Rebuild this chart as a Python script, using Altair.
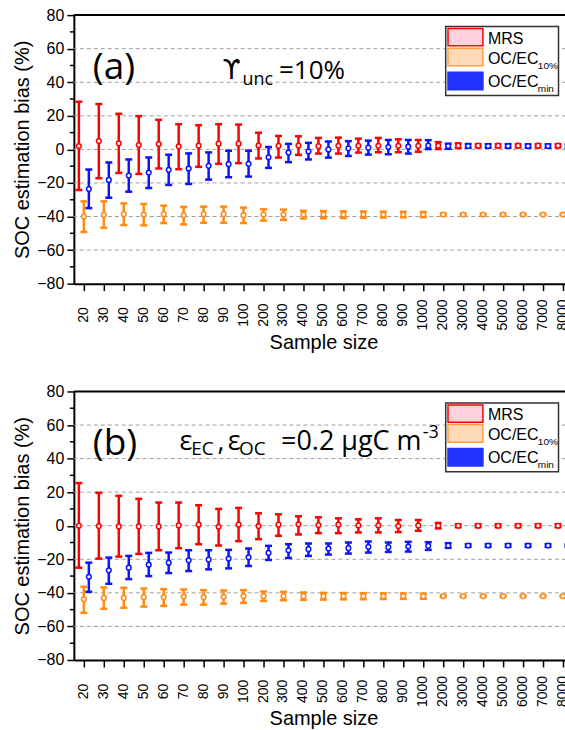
import altair as alt
import pandas as pd

sizes = ["20", "30", "40", "50", "60", "70", "80", "90", "100",
         "200", "300", "400", "500", "600", "700", "800", "900",
         "1000", "2000", "3000", "4000", "5000", "6000", "7000", "8000"]
series_names = ["MRS", "OC/EC10%", "OC/ECmin"]
series_colors = ["#FF0000", "#FF8A14", "#0A14FF"]

# ---------------- panel (a) ----------------
a_mrs_mean = [2.0, 5.0, 3.6, 2.6, 3.2, 1.8, 2.2, 3.4, 3.4, 2.3, 2.1, 2.3, 1.9, 2.1, 2.1, 2.1, 2.1, 2.1,
              2.2, 2.2, 2.2, 2.2, 2.2, 2.2, 2.2]
a_mrs_hi = [28.4, 27.0, 21.2, 19.8, 17.6, 15.0, 14.4, 15.0, 14.8, 9.9, 8.0, 7.8, 6.8, 7.0, 6.4, 6.8, 6.0, 5.6,
            4.3, 3.6, 3.1, 3.1, 3.1, 3.1, 3.1]
a_mrs_lo = [-24.2, -17.2, -14.0, -14.6, -11.4, -11.8, -10.4, -8.6, -8.2, -5.4, -4.9, -3.3, -2.5, -2.5, -1.9, -1.7, -1.7, -1.4,
            0.2, 0.8, 1.2, 1.2, 1.2, 1.2, 1.2]

a_oc10_mean = [-40.0, -39.0, -38.6, -38.8, -38.6, -39.2, -38.6, -38.6, -39.2, -38.8, -38.8, -38.8, -38.8, -38.8, -38.8, -38.8, -38.8, -38.8,
               -38.8, -38.8, -38.8, -38.8, -38.8, -38.8, -38.8]
a_oc10_hi = [-31.0, -31.0, -32.2, -32.5, -33.5, -34.3, -34.1, -34.1, -34.7, -35.7, -35.9, -36.6, -36.8, -36.9, -37.0, -37.1, -37.2, -37.3,
             -38.2, -38.3, -38.4, -38.4, -38.4, -38.5, -38.5]
a_oc10_lo = [-49.2, -46.7, -45.1, -45.3, -43.9, -44.7, -43.7, -43.7, -43.9, -42.4, -42.0, -41.2, -41.0, -40.9, -40.7, -40.6, -40.5, -40.4,
             -39.4, -39.3, -39.2, -39.2, -39.2, -39.1, -39.1]

a_ocmin_mean = [-23.6, -18.2, -15.6, -13.8, -12.2, -11.4, -9.8, -8.8, -8.6, -4.7, -1.9, -1.2, 0.0, 0.6, 1.0, 1.4, 1.6, 2.3,
                2.0, 2.0, 2.0, 2.0, 2.0, 2.0, 2.0]
a_ocmin_hi = [-12.0, -7.8, -6.0, -4.8, -3.2, -2.4, -1.8, -0.8, -0.8, 1.4, 3.3, 3.9, 4.7, 4.9, 5.2, 5.6, 5.6, 5.5,
              3.4, 3.2, 3.1, 3.1, 3.0, 3.0, 3.0]
a_ocmin_lo = [-35.0, -28.8, -25.2, -23.0, -21.2, -20.6, -18.0, -16.6, -16.2, -11.0, -7.6, -6.0, -4.9, -3.9, -3.1, -2.9, -2.5, 0.2,
              0.3, 1.0, 1.0, 1.0, 1.0, 1.0, 1.0]

# ---------------- panel (b) ----------------
b_mrs_mean = [0.0, -0.2, -0.4, -0.4, -0.4, 0.2, 0.6, -0.6, 0.6, -0.2, 0.6, 0.8, 0.4, 0.6, 0.2, 0.2, -0.2, 0.2,
              0.0, 0.0, 0.0, 0.0, 0.0, 0.0, 0.0]
b_mrs_hi = [25.4, 19.6, 17.8, 16.0, 13.8, 13.8, 12.2, 10.0, 10.6, 7.4, 6.8, 5.6, 5.0, 4.4, 3.8, 4.4, 3.4, 3.4,
            1.6, 0.9, 0.9, 0.9, 0.9, 0.9, 0.9]
b_mrs_lo = [-25.0, -19.6, -18.4, -16.8, -14.6, -13.4, -11.0, -11.8, -9.2, -8.0, -6.0, -5.2, -4.4, -4.4, -4.0, -4.0, -3.8, -3.0,
            -1.6, -0.9, -0.9, -0.9, -0.9, -0.9, -0.9]

b_oc10_mean = [-43.8, -43.0, -43.0, -42.6, -42.6, -42.2, -42.6, -42.4, -42.0, -42.0, -42.0, -42.0, -42.0, -42.0, -42.0, -42.0, -42.0, -42.0,
               -42.0, -42.0, -42.0, -42.0, -42.0, -42.0, -42.0]
b_oc10_hi = [-36.4, -36.8, -37.0, -37.4, -37.8, -38.0, -38.4, -38.6, -38.4, -39.2, -39.4, -39.8, -40.0, -40.1, -40.2, -40.3, -40.4, -40.5,
             -41.5, -41.6, -41.6, -41.6, -41.6, -41.6, -41.6]
b_oc10_lo = [-51.9, -49.5, -48.9, -48.2, -47.8, -47.0, -47.0, -46.4, -46.0, -44.8, -44.4, -44.2, -44.0, -43.9, -43.8, -43.7, -43.6, -43.5,
             -42.5, -42.4, -42.4, -42.4, -42.4, -42.4, -42.4]

b_ocmin_mean = [-30.4, -26.6, -25.0, -23.2, -22.0, -20.6, -20.2, -19.6, -18.8, -16.2, -14.6, -14.0, -13.6, -13.4, -12.6, -12.8, -12.4, -12.0,
                -11.8, -11.8, -11.8, -11.8, -11.8, -11.8, -11.8]
b_ocmin_hi = [-22.0, -19.0, -18.0, -16.2, -16.0, -14.6, -14.6, -14.4, -13.6, -12.0, -11.0, -10.6, -10.6, -10.0, -9.4, -10.0, -9.6, -9.8,
              -10.4, -11.0, -11.0, -11.0, -11.0, -11.0, -11.0]
b_ocmin_lo = [-39.4, -34.6, -31.8, -30.0, -28.2, -27.0, -26.0, -25.4, -24.0, -20.4, -19.2, -18.0, -17.2, -16.6, -16.0, -15.6, -15.4, -14.4,
              -13.2, -12.6, -12.6, -12.6, -12.6, -12.6, -12.6]

y_ticks = [-80, -60, -40, -20, 0, 20, 40, 60, 80]
y_minor = [-70, -50, -30, -10, 10, 30, 50, 70]
grid_vals = [-60, -40, -20, 0, 20, 40, 60]

W, H = 500, 269
FONT = "Liberation Sans"
ANN_FONT = "Open Sans"


def make_df(groups):
    rows = []
    for name, mean, hi, lo in groups:
        for s, m, h, l in zip(sizes, mean, hi, lo):
            rows.append({"size": s, "series": name, "mean": m, "hi": h, "lo": l})
    return pd.DataFrame(rows)


df_a = make_df([("MRS", a_mrs_mean, a_mrs_hi, a_mrs_lo),
                ("OC/EC10%", a_oc10_mean, a_oc10_hi, a_oc10_lo),
                ("OC/ECmin", a_ocmin_mean, a_ocmin_hi, a_ocmin_lo)])
df_b = make_df([("MRS", b_mrs_mean, b_mrs_hi, b_mrs_lo),
                ("OC/EC10%", b_oc10_mean, b_oc10_hi, b_oc10_lo),
                ("OC/ECmin", b_ocmin_mean, b_ocmin_hi, b_ocmin_lo)])

y_scale = alt.Scale(domain=[-80, 80], nice=False, zero=False)
y_axis = alt.Axis(title="SOC estimation bias (%)", values=y_ticks, grid=False,
                  tickSize=7, tickWidth=1.5, labelFontSize=16, labelPadding=3,
                  titleFontSize=20, titlePadding=4, domainWidth=2)
x_axis = alt.Axis(title="Sample size", labelAngle=270, labelAlign="center",
                  labelBaseline="middle", labelPadding=24, tickSize=7, tickWidth=1.5,
                  labelFontSize=14, titleFontSize=20, titlePadding=2, domainWidth=2,
                  grid=False, labelOverlap=False)
x_enc = alt.X("size:N", sort=sizes,
              scale=alt.Scale(domain=sizes, paddingInner=0, paddingOuter=0),
              axis=x_axis)
xo_enc = alt.XOffset("series:N",
                     scale=alt.Scale(type="point", domain=series_names, range=[5, 15], padding=0))
color_scale = alt.Scale(domain=series_names, range=series_colors)


def text_item(txt, x, y, size, font=ANN_FONT):
    return alt.Chart(pd.DataFrame({"t": [txt]})).mark_text(
        font=font, fontSize=size, align="left", baseline="alphabetic", color="black"
    ).encode(x=alt.value(x), y=alt.value(y), text="t:N")


def legend_layers():
    one = pd.DataFrame({"k": [0]})
    box = alt.Chart(one).mark_rect(fill="white", stroke="#333333", strokeWidth=1.5).encode(
        x=alt.value(372.5), x2=alt.value(485.5), y=alt.value(11.5), y2=alt.value(80.5))
    sw = []
    for fill, stroke, y0, y1 in [("#FFD1DC", "#FF0000", 13.5, 30.8),
                                 ("#FFDAB9", "#FFA040", 33.2, 50.8),
                                 ("#2233FF", "#2233FF", 57.2, 74.8)]:
        sw.append(alt.Chart(one).mark_rect(fill=fill, stroke=stroke, strokeWidth=1.5).encode(
            x=alt.value(374.8), x2=alt.value(409.8), y=alt.value(y0), y2=alt.value(y1)))
    texts = [text_item("MRS", 414.8, 28.5, 16, FONT),
             text_item("OC/EC", 414.8, 48.5, 16, FONT),
             text_item("10%", 464.8, 53.5, 10, FONT),
             text_item("OC/EC", 414.8, 71.8, 16, FONT),
             text_item("min", 464.8, 76.8, 10, FONT)]
    return [box] + sw + texts


def panel(df, ann):
    one = pd.DataFrame({"k": [0]})
    top_line = alt.Chart(one).mark_rule(color="black", strokeWidth=2).encode(
        x=alt.value(0), x2=alt.value(W), y=alt.value(0))
    grid = alt.Chart(pd.DataFrame({"g": grid_vals})).mark_rule(
        color="#A0A0A0", strokeDash=[4, 3], strokeWidth=1).encode(
        y=alt.Y("g:Q", scale=y_scale, axis=y_axis))
    minor = alt.Chart(pd.DataFrame({"m": y_minor})).mark_rule(
        color="black", strokeWidth=1.5).encode(
        y=alt.Y("m:Q", scale=y_scale, axis=y_axis), x=alt.value(-4), x2=alt.value(0))
    base = alt.Chart(df)
    bars = base.mark_rule(strokeWidth=2.5).encode(
        x=x_enc, xOffset=xo_enc,
        y=alt.Y("lo:Q", scale=y_scale, axis=y_axis), y2="hi:Q",
        color=alt.Color("series:N", scale=color_scale, legend=None))
    cap_hi = base.mark_tick(size=7, thickness=2.5, opacity=1).encode(
        x=x_enc, xOffset=xo_enc,
        y=alt.Y("hi:Q", scale=y_scale, axis=y_axis),
        color=alt.Color("series:N", scale=color_scale, legend=None))
    cap_lo = base.mark_tick(size=7, thickness=2.5, opacity=1).encode(
        x=x_enc, xOffset=xo_enc,
        y=alt.Y("lo:Q", scale=y_scale, axis=y_axis),
        color=alt.Color("series:N", scale=color_scale, legend=None))
    pts = base.mark_point(shape="circle", fill="white", filled=False, fillOpacity=1,
                          opacity=1, size=22, strokeWidth=1.5).encode(
        x=x_enc, xOffset=xo_enc,
        y=alt.Y("mean:Q", scale=y_scale, axis=y_axis),
        stroke=alt.Stroke("series:N", scale=color_scale, legend=None))
    layers = [grid, minor, top_line, bars, cap_hi, cap_lo, pts] + ann + legend_layers()
    return alt.layer(*layers).properties(width=W, height=H)


ann_a = [text_item("(a)", 19, 64, 37),
         text_item("ϒ", 149, 64, 26, "DejaVu Sans"),
         text_item("unc", 169, 70, 18),
         text_item("=10%", 205.5, 64, 26)]
ann_b = [text_item("(b)", 19, 64, 37),
         text_item("ε", 105.8, 58.4, 27),
         text_item("EC", 117.5, 64, 19),
         text_item(",", 144, 58.4, 27),
         text_item("ε", 154.2, 58.4, 27),
         text_item("OC", 165.5, 64, 19),
         text_item("=0.2 μgC m", 207.5, 58.4, 27),
         text_item("-3", 349.5, 47, 18)]

chart = alt.vconcat(panel(df_a, ann_a), panel(df_b, ann_b), spacing=31).properties(
    padding={"left": 12, "top": 6.5, "right": -9, "bottom": 0},
    background="white"
).configure_view(stroke=None).configure_axis(
    labelFont=FONT, titleFont=FONT, labelColor="black", titleColor="black",
    titleFontWeight="normal", domainColor="black", tickColor="black"
)

chart.save("out.html", embed_options={"renderer": "svg", "actions": False})
